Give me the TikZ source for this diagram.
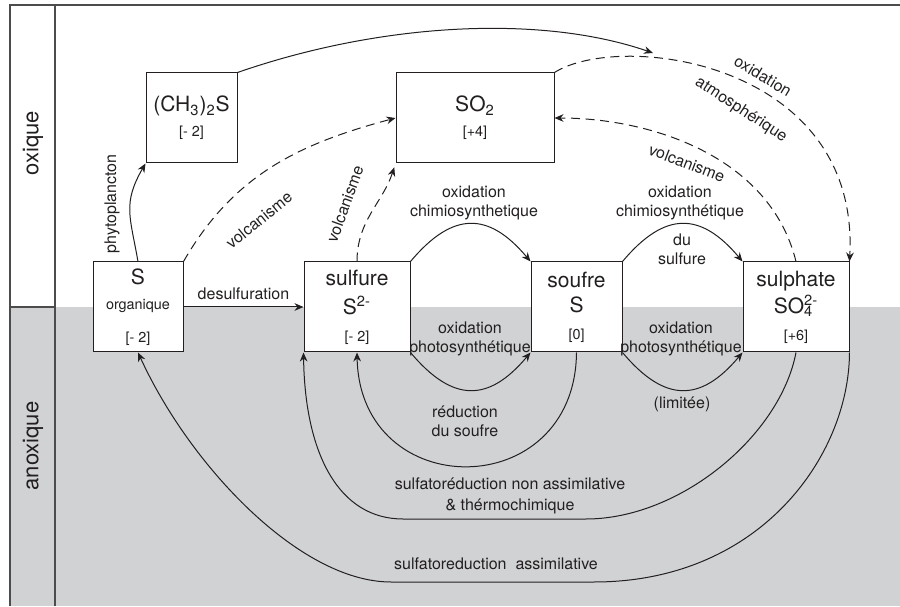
\documentclass[tikz,border=0pt]{standalone}
\usepackage{fontspec}
\setmainfont{TeX Gyre Heros}
\usetikzlibrary{arrows.meta}

\definecolor{anoxgray}{RGB}{209,210,212}
\definecolor{ink}{RGB}{35,31,32}
\newcommand\bigtxt{\fontsize{10.5}{12.5}\selectfont}
\newcommand\smtxt{\fontsize{7.2}{9}\selectfont}
\newcommand\lbltxt{\fontsize{8}{9.6}\selectfont}
\newcommand\zonetxt{\fontsize{11}{13}\selectfont}
\newcommand\subsup[2]{\rlap{\textsubscript{#1}}\textsuperscript{#2}}

\begin{document}
\begin{tikzpicture}[x=0.5pt, y=0.5pt, line width=0.5pt, ink,
  every node/.style={font=\lbltxt, text=ink},
  >={Stealth[length=4.5pt, width=3.8pt]},
  box/.style={draw, fill=white, minimum height=45pt, inner sep=0pt, align=center, font=\bigtxt},
  lbl/.style={align=center, inner sep=1pt},
  dsh/.style={dash pattern=on 4.5pt off 2.8pt},
  frame/.style={line width=0.8pt, draw=black!70}]
	\useasboundingbox (0,0) rectangle (900,606);
	% zones
	\fill[anoxgray] (10,0) rectangle (900,299);
	\draw[frame] (900,601) -- (10,601) -- (10,0);
	\draw[frame] (55,601) -- (55,0);
	\draw[frame] (10,299) -- (55,299);
	\node[rotate=90, font=\zonetxt] (oxique) at (33,463) {oxique};
	\node[rotate=90, font=\zonetxt] (anoxique) at (33,160) {anoxique};
	% compounds
	\node[box, minimum width=45.5pt] (dms) at (191.5,488) {(CH\textsubscript{3})\textsubscript{2}S\\{\smtxt [- 2]}};
	\node[box, minimum width=79pt] (so2) at (475,488) {SO\textsubscript{2}\\{\smtxt [+4]}};
	\node[box, minimum width=45pt] (sorg) at (138,299) {S\\{\smtxt organique}\\[4pt]{\smtxt [- 2]}};
	\node[box, minimum width=53pt] (sulfure) at (357,299) {sulfure\\[2pt]S\textsuperscript{2-}\\[1pt]{\smtxt [- 2]}};
	\node[box, minimum width=45.5pt] (soufre) at (576.5,299) {soufre\\S\\[1pt]{\smtxt [0]}};
	\node[box, minimum width=53pt] (sulphate) at (796,299) {sulphate\\[1pt]SO\subsup{4}{2-}\\[1pt]{\smtxt [+6]}};
	\coordinate (atm) at (653,553);
	% oxic side
	\draw[->] (sorg.north) to[out=100, in=-120, looseness=1.2] (dms.south west);
	\draw[->, dsh] (sorg.north east) to[out=60, in=195] (so2.west);
	\draw[->, dsh, shorten >=2pt] (sulfure.north) to[out=90, in=-108] (so2.south west);
	\draw[->] (dms.north east) .. controls (380,583) and (540,592) .. (atm);
	\draw[->, dsh] (so2.north east) .. controls (620,575) and (860,545) .. (sulphate.north east);
	\draw[->, dsh] (sulphate.north) .. controls (770,450) and (650,488) .. (so2.east);
	\draw[->] (sorg.east) -- node[midway, above] (desulf) {desulfuration} (sulfure.west);
	\draw[->] (sulfure.north east) to[out=50, in=130, looseness=1.4] (soufre.north west);
	\draw[->] (soufre.north east) to[out=50, in=130, looseness=1.4] (sulphate.north west);
	% anoxic side
	\draw[->] (sulfure.south east) to[out=-50, in=-130, looseness=1.4] (soufre.south west);
	\draw[->] (soufre.south east) to[out=-50, in=-130, looseness=1.4] (sulphate.south west);
	\draw[->] (soufre.south) .. controls (575,102) and (360,102) .. (sulfure.south);
	\draw[->] (sulphate.south) .. controls (780,170) and (680,87) .. (586,87) -- (403,87) .. controls (340,87) and (305,150) .. (sulfure.south west);
	\draw[->] (sulphate.south east) .. controls (849,150) and (760,24) .. (594,24) -- (391,24) .. controls (300,24) and (190,140) .. (sorg.south);
	% labels
	\node[lbl, rotate=90] (phyto) at (112,402) {phytoplancton};
	\node[lbl, rotate=39] (volc1) at (259,386) {volcanisme};
	\node[lbl, rotate=70] (volc2) at (345,402) {volcanisme};
	\node[lbl, rotate=-21] (volc3) at (687,443) {volcanisme};
	\node[lbl, rotate=-31] (oxat1) at (763,530) {oxidation};
	\node[lbl, rotate=-33] (oxat2) at (741,496) {atmosphérique};
	\node[lbl] (chim1) at (474,403) {oxidation\\chimiosynthetique};
	\node[lbl] (chim2) at (680,403) {oxidation\\chimiosynthétique};
	\node[lbl] (dusulf) at (682,357) {du\\sulfure};
	\node[lbl] (phot1) at (470,267) {oxidation\\photosynthétique};
	\node[lbl] (phot2) at (681,267) {oxidation\\photosynthétique};
	\node[lbl] (limitee) at (682,202) {(limitée)};
	\node[lbl] (reduc) at (465,185) {réduction\\du soufre};
	\node[lbl] (sulfnon) at (510,110) {sulfatoréduction non assimilative\\[1pt]\& thérmochimique};
	\node[lbl] (sulfass) at (496,42) {sulfatoreduction~ assimilative};
\end{tikzpicture}
\end{document}
